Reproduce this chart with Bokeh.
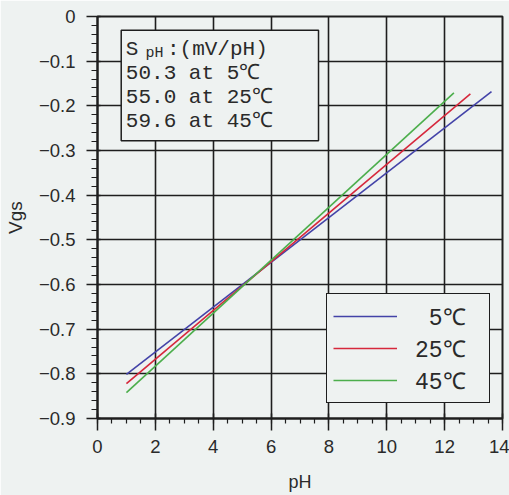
import numpy as np
from bokeh.plotting import figure
from bokeh.models import (FixedTicker, Legend, LegendItem, BoxAnnotation, Label)
from bokeh.embed import file_html
from bokeh.resources import INLINE

# ---- data ----
ph_5c = [1.0, 13.62]
vgs_5c = [-0.801, -0.168]
ph_25c = [1.0, 12.89]
vgs_25c = [-0.822, -0.173]
ph_45c = [1.0, 12.32]
vgs_45c = [-0.842, -0.171]

series_labels = ["\u00a05\u2103", "25\u2103", "45\u2103"]
x_ticks = [0, 2, 4, 6, 8, 10, 12, 14]
y_ticks = [-0.9, -0.8, -0.7, -0.6, -0.5, -0.4, -0.3, -0.2, -0.1, 0.0]
y_tick_labels = ["\u22120.9", "\u22120.8", "\u22120.7", "\u22120.6", "\u22120.5",
                 "\u22120.4", "\u22120.3", "\u22120.2", "\u22120.1", "0"]
box_rows = ["50.3 at 5\u2103", "55.0 at 25\u2103", "59.6 at 45\u2103"]

BG = "#eef2f1"
INK = "#1e1e1e"
TXT = "#2a2a2a"
SANS = "Liberation Sans"
MONO = "Liberation Mono"

p = figure(width=509, height=495, x_range=(0, 14), y_range=(-0.9, 0),
           output_backend="svg", toolbar_location=None,
           min_border_left=97, min_border_right=7, min_border_top=16,
           min_border_bottom=77, background_fill_color=BG,
           border_fill_color=BG)

p.outline_line_color = INK
p.outline_line_width = 2

# axes / ticks
p.xaxis.ticker = FixedTicker(ticks=x_ticks,
                             minor_ticks=list(np.arange(0, 14.01, 0.5)))
p.yaxis.ticker = FixedTicker(ticks=y_ticks,
                             minor_ticks=list(np.round(np.arange(-0.9, 0.001, 0.02), 3)))
p.yaxis.major_label_overrides = {t: l for t, l in zip(y_ticks, y_tick_labels)}
p.xgrid.ticker = FixedTicker(ticks=x_ticks)
p.ygrid.ticker = FixedTicker(ticks=y_ticks)
p.grid.grid_line_color = INK
p.grid.grid_line_width = 1.6
p.grid.grid_line_alpha = 1

for ax in (p.xaxis[0], p.yaxis[0]):
    ax.axis_line_color = INK
    ax.axis_line_width = 2
    ax.major_tick_line_color = INK
    ax.minor_tick_line_color = INK
    ax.major_tick_line_width = 1.5
    ax.minor_tick_line_width = 1.2
    ax.major_label_text_font = SANS
    ax.major_label_text_font_size = "18.5px"
    ax.major_label_text_color = TXT
    ax.axis_label_text_font = SANS
    ax.axis_label_text_font_style = "normal"
    ax.axis_label_text_color = TXT

p.xaxis.major_tick_out = 12
p.xaxis.major_tick_in = 5
p.xaxis.minor_tick_out = 5
p.xaxis.minor_tick_in = 0
p.xaxis.major_label_standoff = 9
p.xaxis.axis_label = "pH"
p.xaxis.axis_label_text_font_size = "18px"
p.xaxis.axis_label_standoff = 16

p.yaxis.major_tick_out = 11
p.yaxis.major_tick_in = 3
p.yaxis.minor_tick_out = 6
p.yaxis.minor_tick_in = 0
p.yaxis.major_label_standoff = 11
p.yaxis.axis_label = "Vgs"
p.yaxis.axis_label_text_font_size = "19px"
p.yaxis.axis_label_standoff = 10

# lines
r5 = p.line(ph_5c, vgs_5c, line_color="#4343a8", line_width=1.6)
r25 = p.line(ph_25c, vgs_25c, line_color="#d6283c", line_width=1.6)
r45 = p.line(ph_45c, vgs_45c, line_color="#4cae4c", line_width=1.6)

# sensitivity box
box = BoxAnnotation(left=0.82, right=7.64, top=-0.031, bottom=-0.278,
                    fill_color=BG, fill_alpha=1, line_color=INK,
                    line_width=1.5, line_alpha=1)
p.add_layout(box)

row_y = [-0.0739, -0.1276, -0.1813, -0.2351]
p.add_layout(Label(x=0.98, y=row_y[0], text="S", text_font=MONO,
                   text_font_size="21px", text_color=TXT,
                   text_baseline="middle"))
p.add_layout(Label(x=1.66, y=row_y[0] - 0.010, text="pH", text_font=MONO,
                   text_font_size="15px", text_color=TXT,
                   text_baseline="middle"))
p.add_layout(Label(x=2.40, y=row_y[0], text=":(mV/pH)", text_font=MONO,
                   text_font_size="21px", text_color=TXT,
                   text_baseline="middle"))
for yy, t in zip(row_y[1:], box_rows):
    p.add_layout(Label(x=0.98, y=yy, text=t, text_font=MONO,
                       text_font_size="21px", text_color=TXT,
                       text_baseline="middle"))

# legend
legend = Legend(items=[LegendItem(label=series_labels[0], renderers=[r5]),
                       LegendItem(label=series_labels[1], renderers=[r25]),
                       LegendItem(label=series_labels[2], renderers=[r45])],
                location=(229, 15), margin=0, padding=6, spacing=0,
                glyph_width=64, glyph_height=20, label_height=20,
                label_width=68, label_standoff=18,
                label_text_font=MONO, label_text_font_size="23px",
                label_text_color=TXT,
                border_line_color=INK, border_line_width=1.5,
                border_line_alpha=1,
                background_fill_color=BG, background_fill_alpha=1)
p.add_layout(legend)

open("out.html", "w").write(file_html(p, INLINE))
